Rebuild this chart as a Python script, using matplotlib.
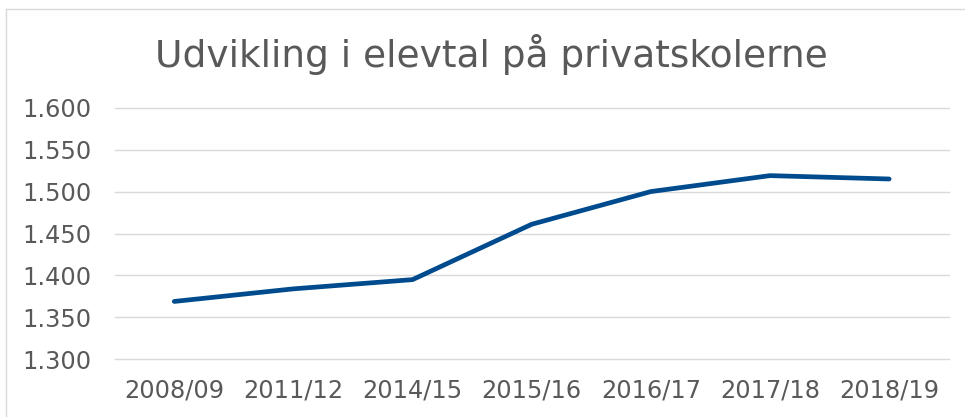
import matplotlib
matplotlib.use("Agg")
import matplotlib.pyplot as plt
from matplotlib.ticker import FuncFormatter
from matplotlib.lines import Line2D

categories = ["2008/09", "2011/12", "2014/15", "2015/16", "2016/17", "2017/18", "2018/19"]
values = [1369, 1384, 1395, 1461, 1500, 1519, 1515]
yticks = [1300, 1350, 1400, 1450, 1500, 1550, 1600]

W, H = 965, 417
fig = plt.figure(figsize=(W / 100, H / 100), dpi=100)
ax = fig.add_axes([114.7 / W, 1 - 359.3 / H, (948.7 - 114.7) / W, (359.3 - 107.7) / H])

x = list(range(len(categories)))
ax.plot(x, values, color="#004B8D", linewidth=3.4, solid_capstyle="round", solid_joinstyle="round", zorder=3)

ax.set_xlim(-0.5, len(categories) - 0.5)
ax.set_ylim(1300, 1600)
ax.set_yticks(yticks)
ax.yaxis.set_major_formatter(FuncFormatter(lambda v, p: f"{int(v):,}".replace(",", ".")))
ax.set_xticks(x)
ax.set_xticklabels(categories)
ax.grid(axis="y", color="#d9d9d9", linewidth=1.0)
for gl in ax.get_ygridlines():
    gl.set_clip_on(False)
ax.set_axisbelow(True)
for s in ax.spines.values():
    s.set_visible(False)
ax.tick_params(axis="both", length=0, labelsize=17.3, labelcolor="#595959")
ax.tick_params(axis="y", pad=16.5)
ax.tick_params(axis="x", pad=14)

fig.text(491.5 / W, 1 - 67.3 / H, "Udvikling i elevtal på privatskolerne", ha="center", va="baseline",
         fontsize=27, color="#595959")

# chart border (top and left visible)
fig.add_artist(Line2D([6 / W, 6 / W], [0, 1 - 9 / H], transform=fig.transFigure, color="#d9d9d9", linewidth=1))
fig.add_artist(Line2D([6 / W, 1], [1 - 9 / H, 1 - 9 / H], transform=fig.transFigure, color="#d9d9d9", linewidth=1))

fig.savefig("out.png", dpi=100)
